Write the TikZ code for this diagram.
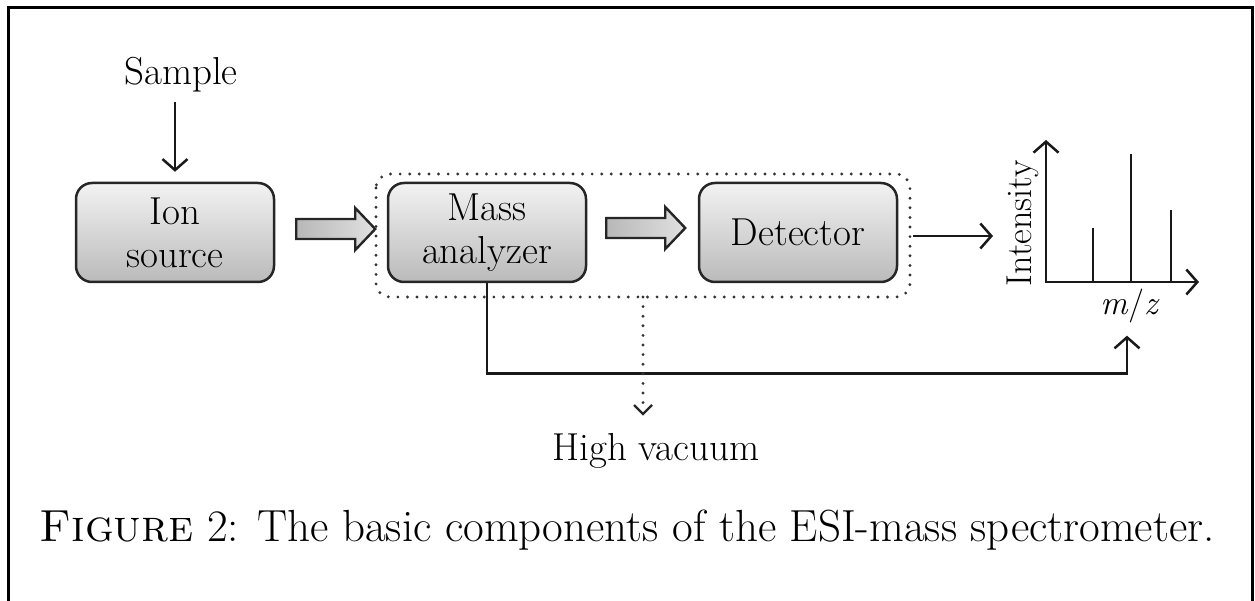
\documentclass[tikz,border=0pt]{standalone}
\usepackage{fontspec}
\usetikzlibrary{arrows.meta}
\begin{document}
\begin{tikzpicture}[x=1pt,y=-1pt,
  lbl/.style={font=\fontsize{39}{43}\selectfont, inner sep=0pt},
  unit/.style={draw=black!85, line width=2.5pt, rounded corners=16pt,
    top color=black!5, bottom color=black!27, minimum width=198pt,
    minimum height=99pt, align=center, inner sep=0pt,
    font=\fontsize{39}{43}\selectfont},
  tip/.style={-{Straight Barb[length=11pt,width=25pt,line width=2.5pt]}},
  conn/.style={line width=2.6pt, black!90, tip},
  dots/.style={line width=3.2pt, line cap=round, dash pattern=on 0pt off 9.6pt, black!80},
  pics/hollow/.style={code={
    \draw[line width=2.4pt, black!85, line join=miter, left color=black!28, right color=black!12]
      (0,-10) -- (59,-10) -- (59,-21) -- (79,0) -- (59,21) -- (59,10) -- (0,10) -- cycle;}},
]
% page frame
\useasboundingbox (0,0) rectangle (1255,601);
\draw[line width=3pt] (8,601) -- (8,8) -- (1252,8) -- (1252,601);

% input
\node[lbl, anchor=base] (sample) at (181,85) {Sample};
\node[unit] (ion) at (175,232.5) {Ion\\source};
\draw[conn] (ion.north |- 0,102) coordinate (s0) -- ([yshift=10pt]ion.north);

% vacuum enclosure
\draw[dots, rounded corners=14pt] (376,174) rectangle (910,297);
\coordinate (encl) at (643,297);

\node[unit] (ma) at (487,232.5) {Mass\\analyzer};
\node[unit] (det) at (798,232.5) {Detector};
\coordinate (h1) at ([xshift=21pt]ion.east |- 0,229);
\coordinate (h2) at ([xshift=19pt]ma.east |- 0,228);
\pic at (h1) {hollow};
\pic at (h2) {hollow};

% spectrum
\coordinate (org) at (1046,282);
\coordinate (ytop) at (1046,140);
\coordinate (xend) at (1199,282);
\draw[line width=2.6pt, black!90, line join=miter, {Straight Barb[length=11pt,width=25pt,line width=2.5pt]}-{Straight Barb[length=11pt,width=25pt,line width=2.5pt]}]
  (ytop) -- (org) -- (xend);
\foreach \px/\py in {1093/228, 1131/154, 1171/210}
  \draw[line width=2.6pt, black!90] (\px,282) -- (\px,\py);
\node[font=\fontsize{36}{40}\selectfont, inner sep=0pt, rotate=90, anchor=base] (int) at (1031,223) {Intensity};
\node[font=\fontsize{34}{40}\selectfont, inner sep=0pt, anchor=base] (mz) at (1130,315) {\textit{m}/\textit{z}};
\coordinate (spec) at (993,236);
\draw[conn] (det.east |- spec) ++(15,0) coordinate (d0) -- (spec);

% data line from the analyzer to the spectrum
\draw[conn] (ma.south) -- ++(0,90) -| ([xshift=-3pt,yshift=-12pt]mz.south);

% high vacuum
\node[lbl, anchor=base] (hv) at (656,460) {High vacuum};
\draw[dots] (encl) -- (643,405);
\draw[line width=2.4pt, black!85] (634,405) -- (643,414) -- (652,405);

% caption
\node[inner sep=0pt, anchor=base, font=\fontsize{45}{50}\selectfont] (cap) at (627,541)
  {\textsc{Figure} 2: The basic components of the ESI-mass spectrometer.};
\end{tikzpicture}
\end{document}
